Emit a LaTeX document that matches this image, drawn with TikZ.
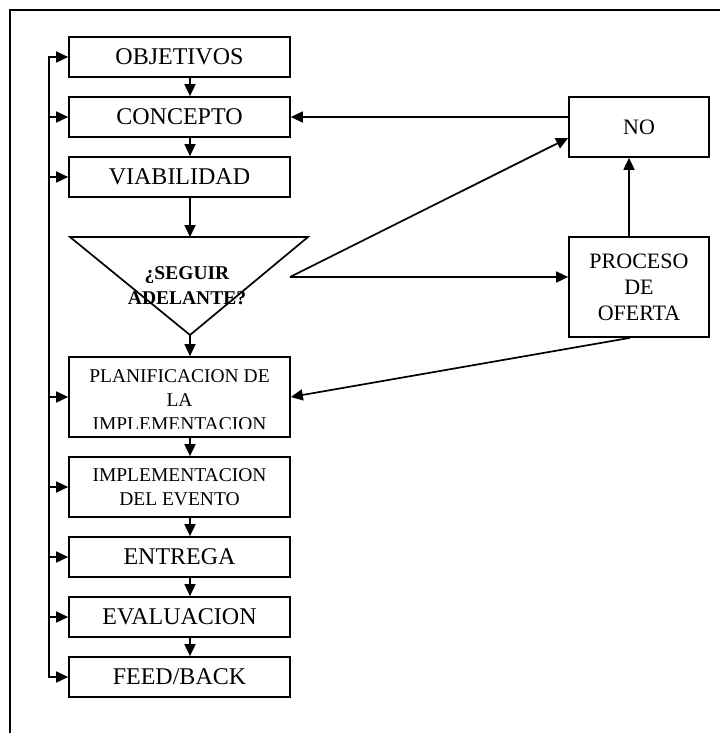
\documentclass[tikz,border=0pt]{standalone}
\usepackage{fontspec}
\setmainfont{Liberation Serif}
\usetikzlibrary{arrows.meta}

\begin{document}
\begin{tikzpicture}[x=1pt, y=-1pt, line width=1.7pt, >={Triangle[length=12pt, width=11pt]},
    stage/.style={draw, minimum width=221pt, minimum height=40pt, inner sep=0pt, font=\fontsize{24}{28}\selectfont},
    small/.style={align=center, font=\fontsize{19.5}{24}\selectfont},
    side/.style={draw, minimum width=140pt, inner sep=0pt, align=center, font=\fontsize{22}{26}\selectfont}]

    \useasboundingbox (0,0) rectangle (720,733);
    \draw[line width=1.3pt] (10,733) -- (10,10) -- (720,10);

    \coordinate (col) at (190,0);
    \coordinate (bus) at (49,0);

    \node[stage] (obj) at (179.5,57) {OBJETIVOS};
    \node[stage] (con) at (179.5,117) {CONCEPTO};
    \node[stage] (via) at (179.5,177) {VIABILIDAD};

    % decision triangle
    \coordinate (dtop) at (190,237);
    \coordinate (dapex) at (190,335);
    \coordinate (dfan) at (290,277);
    \draw (70,237) -- (308,237) -- (dapex) -- cycle;
    \node[align=center, font=\bfseries\fontsize{19.5}{25}\selectfont] (ask) at (187,286) {¿SEGUIR\\ADELANTE?};

    \node[stage, minimum height=80pt] (plan) at (179.5,397) {};
    \begin{scope}
      \clip ([yshift=9pt]plan.south west) rectangle (plan.north east);
      \node[small] (plantxt) at (179.5,400.5) {PLANIFICACION DE\\LA\\IMPLEMENTACION};
    \end{scope}
    \node[stage, minimum height=60pt, small] (impl) at (179.5,487) {IMPLEMENTACION\\DEL EVENTO};
    \node[stage] (ent) at (179.5,557) {ENTREGA};
    \node[stage] (eval) at (179.5,617) {EVALUACION};
    \node[stage] (feed) at (179.5,677) {FEED/BACK};

    \node[side, minimum height=60pt] (no) at (639,127) {NO};
    \node[side, minimum height=100pt] (proc) at (639,287) {PROCESO\\DE\\OFERTA};

    % main column
    \foreach \a/\b in {obj/con, con/via, plan/impl, impl/ent, ent/eval, eval/feed}
      \draw[->] (\a.south -| col) -- (\b.north -| col);
    \draw[->] (via.south -| col) -- (dtop);
    \draw[->] (dapex) -- (plan.north -| col);

    % right side
    \draw[->] (con.east -| no.west) -- (con.east);
    \draw[->] (dfan) -- ([yshift=-11pt]no.west);
    \draw[->] (dfan) -- (dfan -| proc.west);
    \draw[->] ([xshift=-10pt]proc.north) -- ([xshift=-10pt]no.south);
    \draw[->] ([xshift=-9pt]proc.south) -- (plan.east);

    % feedback bus
    \draw[<->] (obj.west) -- (obj.west -| bus) -- (feed.west -| bus) -- (feed.west);
    \foreach \n in {con, via, plan, impl, ent, eval}
      \draw[->] (\n.west -| bus) -- (\n.west);
  \end{tikzpicture}
\end{document}
